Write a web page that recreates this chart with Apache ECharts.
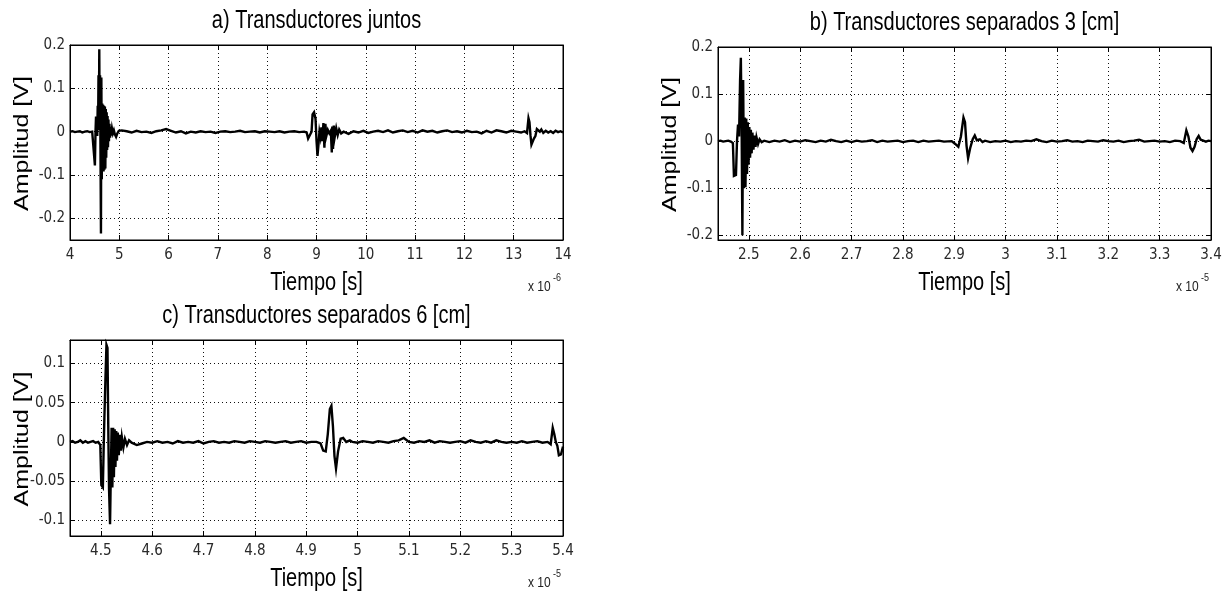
<!DOCTYPE html>
<html>
<head>
<meta charset="utf-8">
<script src="https://cdn.jsdelivr.net/npm/echarts@6/dist/echarts.min.js"></script>
<style>
html,body{margin:0;padding:0;background:#fff;}
#chart{width:1225px;height:592px;}
</style>
</head>
<body>
<div id="chart"></div>
<script>
// ---------------- DATA ----------------
const titles = ['a) Transductores juntos', 'b) Transductores separados 3 [cm]', 'c) Transductores separados 6 [cm]'];
const xName = 'Tiempo [s]';
const yName = 'Amplitud [V]';
const exponents = ['-6', '-5', '-5'];

// a) time in units of 1e-6 s, amplitude in V
const signalA = [
[4.00,0.000],[4.05,0.001],[4.10,-0.001],[4.15,0.000],[4.20,0.001],[4.25,-0.002],[4.30,0.000],[4.35,0.001],[4.40,-0.001],[4.45,0.000],[4.49,0.001],
[4.500,0.000],[4.505,-0.078],[4.512,-0.076],[4.518,0.002],[4.528,0.035],[4.536,-0.004],[4.545,0.032],[4.553,-0.010],[4.562,0.060],[4.570,0.010],
[4.578,0.130],[4.586,0.020],[4.594,0.190],[4.602,0.004],[4.610,0.130],[4.618,-0.040],[4.628,-0.235],[4.636,0.125],[4.645,-0.110],[4.654,0.065],
[4.663,-0.090],[4.672,0.062],[4.681,-0.092],[4.690,0.060],[4.699,-0.088],[4.708,0.058],[4.717,-0.085],[4.726,0.052],[4.735,-0.060],[4.744,0.045],
[4.753,-0.042],[4.762,0.036],[4.771,-0.036],[4.780,0.028],[4.790,-0.022],[4.800,0.018],[4.812,-0.014],[4.824,0.011],[4.838,-0.009],[4.852,0.007],
[4.870,-0.004],[4.890,0.003],[4.910,-0.006],[4.935,-0.012],[4.960,-0.004],[4.990,0.002],
[5.05,0.003],[5.15,0.001],[5.25,-0.002],[5.35,0.002],[5.45,-0.001],[5.55,0.000],[5.65,-0.003],[5.75,0.001],[5.85,0.003],[5.95,0.006],
[6.05,0.002],[6.15,-0.002],[6.25,0.001],[6.35,-0.004],[6.45,0.000],[6.55,-0.002],[6.65,0.001],[6.75,-0.001],[6.85,0.000],[6.95,-0.003],
[7.05,0.000],[7.15,0.001],[7.25,-0.001],[7.35,0.000],[7.45,0.002],[7.55,-0.001],[7.65,0.000],[7.75,0.001],[7.85,-0.002],[7.95,0.001],
[8.05,0.000],[8.15,-0.001],[8.25,0.001],[8.35,-0.002],[8.45,0.000],[8.55,0.001],[8.65,-0.001],[8.75,0.000],
[8.80,-0.002],[8.83,-0.016],[8.87,-0.017],[8.90,0.000],[8.92,0.040],[8.95,0.045],[8.98,0.030],[9.00,-0.020],[9.02,-0.056],[9.04,-0.030],
[9.06,0.000],[9.08,-0.012],[9.10,0.010],[9.12,-0.022],[9.14,0.020],[9.16,-0.037],[9.18,0.018],[9.20,-0.010],[9.23,0.004],[9.26,-0.004],
[9.29,0.002],[9.31,-0.048],[9.32,0.012],[9.335,-0.040],[9.35,0.014],[9.37,-0.012],[9.40,0.008],[9.43,-0.008],[9.46,0.005],[9.50,-0.004],[9.55,0.000],
[9.65,-0.005],[9.75,0.001],[9.85,-0.002],[9.95,0.002],[10.05,-0.003],[10.15,0.000],[10.25,0.002],[10.35,-0.001],[10.45,0.003],[10.55,-0.002],
[10.65,0.001],[10.75,0.003],[10.85,-0.001],[10.95,0.002],[11.05,-0.002],[11.15,0.003],[11.25,0.000],[11.35,0.002],[11.45,-0.002],[11.55,0.001],
[11.65,0.003],[11.75,-0.001],[11.85,0.001],[11.95,-0.002],[12.05,0.002],[12.15,-0.001],[12.25,0.000],[12.35,-0.004],[12.45,0.002],[12.55,-0.002],
[12.65,0.003],[12.75,0.001],[12.85,-0.002],[12.95,0.002],[13.05,0.000],[13.15,-0.002],[13.22,0.001],
[13.27,-0.003],[13.30,0.031],[13.32,0.022],[13.34,-0.008],[13.36,-0.030],[13.39,-0.031],[13.41,-0.016],[13.44,-0.010],[13.47,0.006],[13.50,0.010],
[13.53,0.000],[13.56,0.005],[13.60,-0.003],[13.65,0.002],[13.70,-0.002],[13.75,0.001],[13.80,-0.003],[13.85,0.002],[13.90,-0.001],[13.95,0.001],[14.00,-0.002]
];

// b) time in units of 1e-5 s
const signalB = [
[2.440,0.000],[2.445,0.001],[2.450,-0.001],[2.455,0.000],[2.460,0.001],[2.465,-0.001],[2.469,-0.004],
[2.471,-0.074],[2.475,-0.072],[2.477,0.000],[2.479,0.035],[2.481,0.010],[2.483,0.130],[2.4845,0.177],[2.486,0.030],[2.4875,-0.200],
[2.489,0.130],[2.4905,-0.100],[2.492,0.050],[2.4935,-0.098],[2.495,0.048],[2.4965,-0.070],[2.498,0.040],[2.4995,-0.050],[2.501,0.030],
[2.5025,-0.035],[2.504,0.024],[2.5055,-0.026],[2.507,0.018],[2.509,-0.018],[2.511,0.012],[2.513,-0.012],[2.515,0.008],[2.518,-0.006],
[2.521,0.004],[2.525,-0.002],[2.53,0.001],
[2.54,-0.002],[2.55,0.001],[2.56,-0.001],[2.57,0.002],[2.58,-0.002],[2.59,0.001],[2.60,-0.001],[2.61,0.002],[2.62,0.000],[2.63,-0.002],
[2.64,0.001],[2.65,-0.001],[2.66,0.003],[2.67,0.000],[2.68,-0.002],[2.69,0.001],[2.70,-0.002],[2.71,0.001],[2.72,-0.001],[2.73,0.000],
[2.74,0.002],[2.75,-0.002],[2.76,0.001],[2.77,-0.001],[2.78,0.000],[2.79,0.001],[2.80,-0.002],[2.81,0.000],[2.82,0.001],[2.83,-0.002],
[2.84,0.001],[2.85,-0.001],[2.86,0.000],[2.87,0.001],[2.88,-0.001],
[2.895,0.000],[2.902,-0.006],[2.908,-0.012],[2.913,0.010],[2.918,0.050],[2.921,0.040],[2.924,-0.010],[2.927,-0.036],[2.931,-0.015],
[2.936,0.004],[2.940,0.012],[2.944,0.002],[2.950,0.004],[2.955,-0.002],
[2.96,0.001],[2.97,-0.002],[2.98,0.000],[2.99,-0.001],[3.00,0.001],[3.01,-0.002],[3.02,0.000],[3.03,-0.001],[3.04,0.001],[3.05,0.000],
[3.06,0.004],[3.07,0.000],[3.08,-0.002],[3.09,0.001],[3.10,-0.001],[3.11,0.000],[3.12,0.002],[3.13,-0.001],[3.14,0.000],[3.15,-0.002],
[3.16,0.001],[3.17,0.000],[3.18,-0.001],[3.19,0.002],[3.20,0.000],[3.21,-0.001],[3.22,0.001],[3.23,-0.002],[3.24,0.000],[3.25,0.001],
[3.26,0.003],[3.27,-0.001],[3.28,0.000],[3.29,0.001],[3.30,-0.001],[3.31,0.000],[3.32,-0.002],[3.33,0.001],[3.34,0.000],
[3.347,-0.004],[3.352,0.023],[3.356,0.010],[3.360,-0.014],[3.364,-0.021],[3.368,-0.012],[3.372,0.004],[3.376,0.011],[3.380,0.003],
[3.385,0.001],[3.390,-0.001],[3.395,0.001],[3.400,0.000]
];

// c) time in units of 1e-5 s
const signalC = [
[4.440,0.000],[4.445,0.001],[4.450,-0.001],[4.455,0.000],[4.460,0.002],[4.465,-0.001],[4.470,0.001],[4.475,-0.001],[4.480,0.000],[4.485,0.001],
[4.490,-0.001],[4.495,0.000],[4.499,-0.004],
[4.501,-0.055],[4.504,-0.058],[4.5055,-0.010],[4.507,0.032],[4.509,0.080],[4.511,0.124],[4.513,0.120],[4.5145,0.020],[4.516,-0.060],
[4.518,-0.105],[4.5195,-0.040],[4.521,0.018],[4.5225,-0.058],[4.524,0.018],[4.5255,-0.045],[4.527,0.016],[4.5285,-0.032],[4.530,0.014],
[4.5315,-0.024],[4.533,0.012],[4.535,-0.017],[4.537,0.009],[4.539,-0.011],[4.541,0.006],[4.544,-0.007],[4.547,0.004],[4.551,-0.004],
[4.555,0.002],[4.56,-0.001],
[4.57,-0.004],[4.58,-0.002],[4.59,0.000],[4.60,-0.001],[4.61,0.001],[4.62,-0.001],[4.63,0.000],[4.64,-0.002],[4.65,0.001],[4.66,-0.001],
[4.67,0.000],[4.68,-0.001],[4.69,0.001],[4.70,-0.002],[4.71,0.000],[4.72,0.001],[4.73,-0.001],[4.74,0.000],[4.75,-0.001],[4.76,0.001],
[4.77,0.000],[4.78,-0.001],[4.79,0.001],[4.80,0.000],[4.81,-0.001],[4.82,0.001],[4.83,0.000],[4.84,-0.001],[4.85,0.000],[4.86,0.001],
[4.87,-0.001],[4.88,0.000],[4.89,0.001],[4.90,-0.001],[4.91,0.000],[4.92,0.000],
[4.928,-0.002],[4.933,-0.011],[4.938,-0.012],[4.942,0.010],[4.946,0.042],[4.949,0.046],[4.952,0.020],[4.955,-0.018],[4.958,-0.034],
[4.962,-0.012],[4.967,0.004],[4.972,0.005],[4.978,0.000],[4.985,0.002],[4.99,0.000],
[5.00,-0.001],[5.01,0.001],[5.02,0.000],[5.03,-0.001],[5.04,0.001],[5.05,0.000],[5.06,-0.001],[5.07,0.001],[5.08,0.002],[5.09,0.005],
[5.10,0.000],[5.11,-0.001],[5.12,0.001],[5.13,0.000],[5.14,0.002],[5.15,-0.001],[5.16,0.001],[5.17,0.000],[5.18,-0.001],[5.19,0.000],
[5.20,0.001],[5.21,-0.001],[5.22,0.002],[5.23,0.000],[5.24,-0.001],[5.25,0.001],[5.26,-0.001],[5.27,0.002],[5.28,0.000],[5.29,-0.001],
[5.30,0.000],[5.31,-0.001],[5.32,0.001],[5.33,-0.001],[5.34,0.000],[5.35,0.001],[5.36,-0.001],[5.37,0.000],
[5.376,-0.003],[5.380,0.018],[5.383,0.010],[5.386,0.000],[5.389,-0.005],[5.392,-0.017],[5.396,-0.016],[5.400,-0.006]
];

// axis ranges and tick steps
const xRanges = [[4, 14], [2.44, 3.4], [4.44, 5.4]];
const yRanges = [[-0.25, 0.2], [-0.21, 0.2], [-0.12, 0.13]];
const xSteps = [1, 0.1, 0.1];
const ySteps = [0.1, 0.1, 0.05];

// ---------------- LAYOUT / STYLE ----------------
const TICKFONT = "'DejaVu Sans Condensed','Liberation Sans',sans-serif";
const TEXTFONT = "'Liberation Sans',Arial,sans-serif";
const STRETCH = 1.25; // the reference figure is vertically stretched
const grids = [
  {left: 70, top: 45, width: 493, height: 195},
  {left: 718, top: 47, width: 493, height: 193},
  {left: 70, top: 340, width: 493, height: 196}
];
const signals = [signalA, signalB, signalC];

const option = {
  animation: false,
  backgroundColor: '#fff',
  grid: grids.map(g => Object.assign({show: true, borderColor: '#000', borderWidth: 1, backgroundColor: '#fff'}, g)),
  xAxis: [],
  yAxis: [],
  series: [],
  graphic: []
};

function stepOpts(min, step) {
  const k = min / step;
  if (Math.abs(k - Math.round(k)) < 1e-9) return {interval: step};
  return {minInterval: step, maxInterval: step};
}
function onStep(v, step) {
  const k = v / step;
  return Math.abs(k - Math.round(k)) < 1e-6;
}

for (let i = 0; i < 3; i++) {
  const [x0, x1] = xRanges[i];
  const [y0, y1] = yRanges[i];
  const tick = {inside: true, length: 5, lineStyle: {color: '#000', width: 1}};
  const line = {show: true, onZero: false, lineStyle: {color: '#000', width: 1}};
  const split = {show: true, lineStyle: {color: '#111', width: 1, type: [1, 3]}};
  option.xAxis.push(Object.assign({
    gridIndex: i, type: 'value', position: 'bottom', min: x0, max: x1,
    axisLine: line, axisTick: tick,
    axisLabel: {margin: 8, color: '#2a2a2a', fontFamily: TICKFONT, fontSize: 15,
      formatter: v => { const r = +v.toFixed(4); return onStep(r, xSteps[i]) ? String(r) : ''; }},
    splitLine: split
  }, stepOpts(x0, xSteps[i])));
  option.xAxis.push(Object.assign({
    gridIndex: i, type: 'value', position: 'top', min: x0, max: x1,
    axisLine: line, axisTick: tick, axisLabel: {show: false}, splitLine: {show: false}
  }, stepOpts(x0, xSteps[i])));
  option.yAxis.push(Object.assign({
    gridIndex: i, type: 'value', position: 'left', min: y0, max: y1,
    axisLine: line, axisTick: tick,
    axisLabel: {margin: 5, color: '#2a2a2a', fontFamily: TICKFONT, fontSize: 15,
      formatter: v => { const r = +v.toFixed(4); return onStep(r, ySteps[i]) ? String(r) : ''; }},
    splitLine: split
  }, stepOpts(y0, ySteps[i])));
  option.yAxis.push(Object.assign({
    gridIndex: i, type: 'value', position: 'right', min: y0, max: y1,
    axisLine: line, axisTick: tick, axisLabel: {show: false}, splitLine: {show: false}
  }, stepOpts(y0, ySteps[i])));

  option.series.push({
    type: 'line', xAxisIndex: 2 * i, yAxisIndex: 2 * i,
    data: signals[i], showSymbol: false, symbol: 'none',
    lineStyle: {color: '#000', width: 2.4, join: 'miter'}, clip: true, silent: true
  });

  const g = grids[i];
  const cx = g.left + g.width / 2;
  const cy = g.top + g.height / 2;
  const R = g.left + g.width;
  const B = g.top + g.height;
  // panel title
  option.graphic.push({
    type: 'text', x: cx, y: g.top - 24, scaleY: STRETCH, silent: true,
    style: {text: titles[i], align: 'center', verticalAlign: 'middle', fontFamily: TEXTFONT, fontSize: 20, fill: '#000'}
  });
  // x-axis name
  option.graphic.push({
    type: 'text', x: cx, y: B + 43, scaleY: STRETCH, silent: true,
    style: {text: xName, align: 'center', verticalAlign: 'middle', fontFamily: TEXTFONT, fontSize: 20, fill: '#000'}
  });
  // y-axis name (rotated, stretched along its length)
  option.graphic.push({
    type: 'text', x: g.left - 48, y: cy + 1, rotation: Math.PI / 2, scaleX: STRETCH, silent: true,
    style: {text: yName, align: 'center', verticalAlign: 'middle', fontFamily: TEXTFONT, fontSize: 20, fill: '#000'}
  });
  // axis multiplier "x 10^n"
  option.graphic.push({
    type: 'text', x: R - 35, y: B + 47, scaleY: STRETCH, silent: true,
    style: {text: 'x 10', align: 'left', verticalAlign: 'middle', fontFamily: TEXTFONT, fontSize: 12, fill: '#222'}
  });
  option.graphic.push({
    type: 'text', x: R - 10, y: B + 38, scaleY: STRETCH, silent: true,
    style: {text: exponents[i], align: 'left', verticalAlign: 'middle', fontFamily: TEXTFONT, fontSize: 9, fill: '#222'}
  });
}

const chart = echarts.init(document.getElementById('chart'), null, {renderer: 'canvas'});
chart.setOption(option);
</script>
</body>
</html>
